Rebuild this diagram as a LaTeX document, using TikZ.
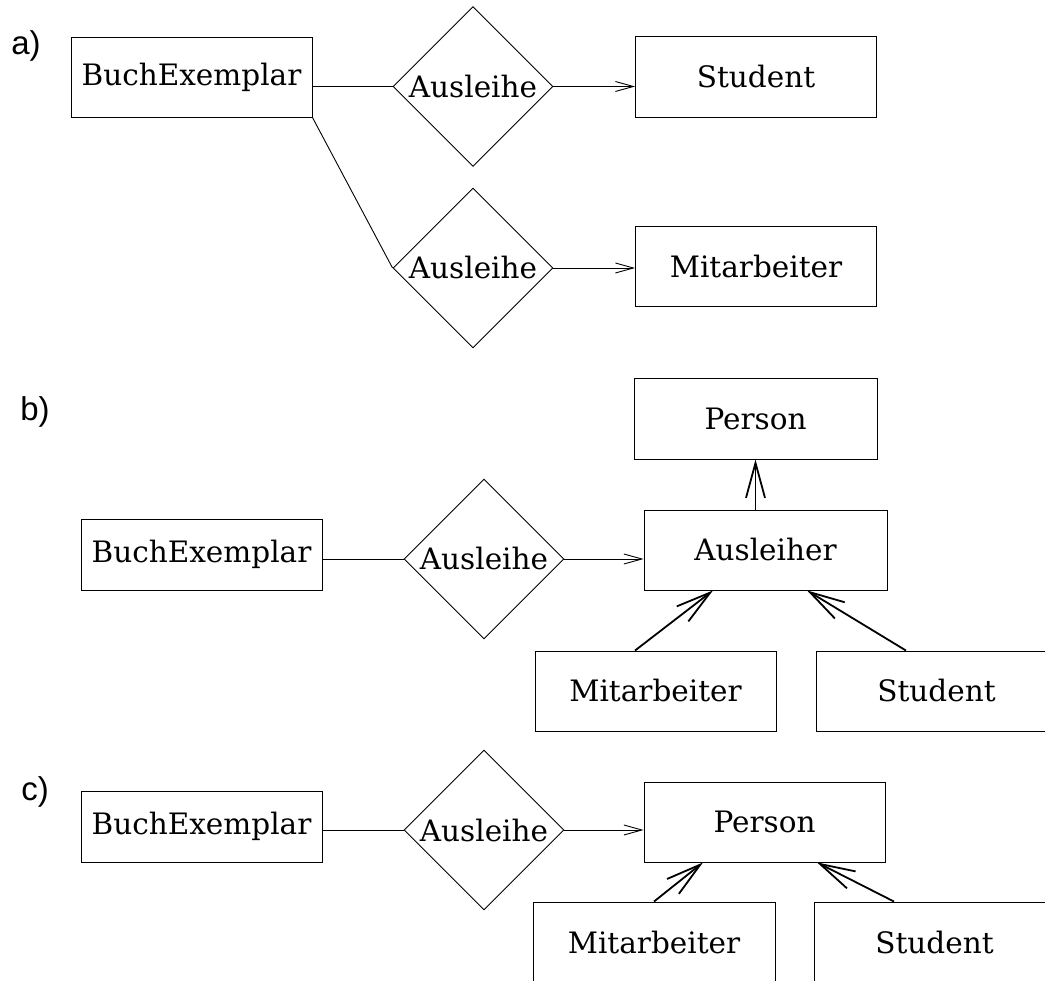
\documentclass[tikz,border=0pt]{standalone}
\usepackage{fontspec}
\setmainfont{DejaVu Serif}
\newfontfamily\tagfont{Liberation Sans}
\usetikzlibrary{shapes.geometric,arrows.meta}

\tikzset{
  entity/.style={draw, line width=0.9pt, rectangle, minimum width=241pt, minimum height=80pt,
                 inner sep=0pt, font=\fontsize{29.5}{33}\selectfont},
  relation/.style={draw, line width=0.9pt, diamond, minimum width=160pt, minimum height=160pt,
                   inner sep=0pt, font=\fontsize{29.5}{33}\selectfont},
  link/.style={line width=0.9pt},
  assoc/.style={line width=0.9pt, -{Straight Barb[length=18pt, width=10pt, line width=0.9pt]}},
  isa/.style={line width=1.8pt, -{Straight Barb[length=35pt, width=19pt, line width=1.8pt]}},
  tag/.style={font=\tagfont\fontsize{33}{37}\selectfont, inner sep=0pt},
}

\begin{document}
\begin{tikzpicture}[x=1pt, y=-1pt]
  \useasboundingbox (0,0) rectangle (1045,981);
  \clip (0,0) rectangle (1045,981);

  % ---------- a) two separate loan relationships ----------
  \node[tag] (la) at (26,46) {a)};
  \node[entity] (bxA) at (191.5,77) {BuchExemplar};
  \node[relation] (dA1) at (473,86.5) {Ausleihe};
  \node[entity, minimum height=81pt] (stA) at (756,76.5) {Student};
  \node[relation] (dA2) at (473,268) {Ausleihe};
  \node[entity] (miA) at (756,266.5) {Mitarbeiter};

  \draw[link] (bxA.east |- dA1.west) -- (dA1.west);
  \draw[assoc] (dA1.east) -- (stA.west |- dA1.east);
  \draw[link] (bxA.south east) -- (dA2.west);
  \draw[assoc] (dA2.east) -- (miA.west |- dA2.east);

  % ---------- b) borrower as intermediate generalisation ----------
  \node[tag] (lb) at (35,412) {b)};
  \node[entity, minimum width=243pt, minimum height=81pt] (perB) at (755.5,418.5) {Person};
  \node[entity, minimum height=71pt] (bxB) at (201.5,554.5) {BuchExemplar};
  \node[relation] (dB) at (484,559) {Ausleihe};
  \node[entity, minimum width=243pt] (ausB) at (765.5,550) {Ausleiher};
  \node[entity] (miB) at (655.5,691) {Mitarbeiter};
  \node[entity] (stB) at (936.5,691) {Student};

  \draw[link] (bxB.east |- dB.west) -- (dB.west);
  \draw[assoc] (dB.east) -- (ausB.west |- dB.east);
  \draw[isa] (perB.south |- ausB.north) -- (perB.south);
  \draw[isa] ([xshift=-20.5pt]miB.north) -- ([xshift=-52.5pt]ausB.south);
  \draw[isa] ([xshift=-30.5pt]stB.north) -- ([xshift=41.5pt]ausB.south);

  % ---------- c) person directly as borrower ----------
  \node[tag] (lc) at (35,792) {c)};
  \node[entity, minimum height=71pt] (bxC) at (201.5,826.5) {BuchExemplar};
  \node[relation] (dC) at (484,830) {Ausleihe};
  \node[entity] (perC) at (764.5,822) {Person};
  \node[entity, minimum width=242pt] (miC) at (654,942) {Mitarbeiter};
  \node[entity] (stC) at (934.5,942) {Student};

  \draw[link] (bxC.east |- dC.west) -- (dC.west);
  \draw[assoc] (dC.east) -- (perC.west |- dC.east);
  \draw[isa] (miC.north) -- ([xshift=-61.5pt]perC.south);
  \draw[isa] ([xshift=-40.5pt]stC.north) -- ([xshift=52.5pt]perC.south);
\end{tikzpicture}
\end{document}
